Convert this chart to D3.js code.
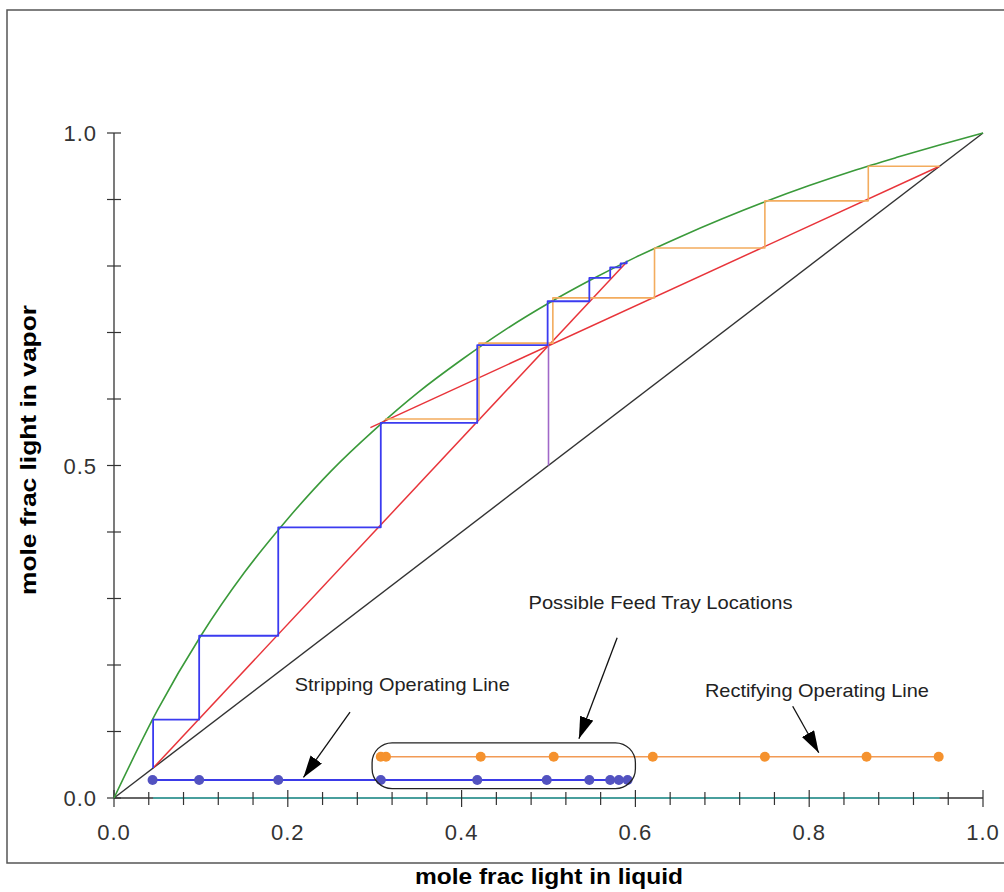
<!DOCTYPE html>
<html>
<head>
<meta charset="utf-8">
<script src="https://cdn.jsdelivr.net/npm/d3@7"></script>
<style>
  html, body { margin: 0; padding: 0; background: #fff; }
  svg { display: block; font-family: "Liberation Sans", Arial, sans-serif; }
</style>
</head>
<body>
<div id="chart"></div>
<script>
// equilibrium curve
const eqX = [0, 0.05, 0.1, 0.15, 0.2, 0.25, 0.3, 0.35, 0.4, 0.45, 0.5, 0.55, 0.6, 0.65, 0.7, 0.75, 0.8, 0.85, 0.9, 0.95, 1.0];
const eqY = [0, 0.132, 0.244, 0.339, 0.420, 0.492, 0.554, 0.610, 0.659, 0.704, 0.744, 0.780, 0.813, 0.843, 0.871, 0.897, 0.921, 0.943, 0.963, 0.982, 1.0];

const diagX = [0, 1];
const diagY = [0, 1];

// operating lines and feed line
const stripX = [0.045, 0.59];
const stripY = [0.045, 0.806];
const rectX = [0.95, 0.295];
const rectY = [0.95, 0.557];
const feedX = [0.5, 0.5];
const feedY = [0.5, 0.681];

// stripping staircase (blue)
const blueStepX = [0.045, 0.045, 0.098, 0.098, 0.189, 0.189, 0.307, 0.307, 0.418, 0.418, 0.499, 0.499, 0.547, 0.547, 0.571, 0.571, 0.583, 0.583, 0.590, 0.590];
const blueStepY = [0.045, 0.118, 0.118, 0.244, 0.244, 0.407, 0.407, 0.564, 0.564, 0.681, 0.681, 0.747, 0.747, 0.782, 0.782, 0.798, 0.798, 0.804, 0.804, 0.808];

// rectifying staircase (orange)
const orangeStepX = [0.95, 0.868, 0.868, 0.749, 0.749, 0.622, 0.622, 0.505, 0.505, 0.420, 0.420, 0.312];
const orangeStepY = [0.95, 0.95, 0.898, 0.898, 0.827, 0.827, 0.752, 0.752, 0.684, 0.684, 0.570, 0.570];

// feed tray candidates along the bottom
const blueTrayX = [0.0444, 0.098, 0.189, 0.307, 0.418, 0.498, 0.547, 0.571, 0.581, 0.591];
const orangeTrayX = [0.307, 0.313, 0.422, 0.506, 0.620, 0.749, 0.866, 0.949];
const blueTrayY = 0.027;
const orangeTrayY = 0.062;
const baseX = [0.045, 0.95];

const xTickLabels = [0.0, 0.2, 0.4, 0.6, 0.8, 1.0];
const yTickLabels = [0.0, 0.5, 1.0];

const width = 1004, height = 892;
const x = d3.scaleLinear().domain([0, 1]).range([114, 983]);
const y = d3.scaleLinear().domain([0, 1]).range([798, 133]);

const svg = d3.select('#chart').append('svg')
  .attr('width', width)
  .attr('height', height);

svg.append('defs').append('marker')
  .attr('id', 'arrow')
  .attr('markerUnits', 'userSpaceOnUse')
  .attr('markerWidth', 24)
  .attr('markerHeight', 16)
  .attr('refX', 22)
  .attr('refY', 7)
  .attr('orient', 'auto')
  .append('path')
  .attr('d', 'M0,0 L22,7 L0,14 Z')
  .attr('fill', '#000');

// outer frame
svg.append('rect')
  .attr('x', 7).attr('y', 10)
  .attr('width', 1010).attr('height', 853)
  .attr('fill', 'none')
  .attr('stroke', '#555')
  .attr('stroke-width', 1.5);

const zip = (xs, ys) => xs.map((v, i) => [v, ys[i]]);
const line = d3.line().x(d => x(d[0])).y(d => y(d[1]));
const smooth = d3.line().x(d => x(d[0])).y(d => y(d[1])).curve(d3.curveMonotoneX);

function drawPath(xs, ys, color, w, gen) {
  return svg.append('path')
    .attr('d', (gen || line)(zip(xs, ys)))
    .attr('fill', 'none')
    .attr('stroke', color)
    .attr('stroke-width', w)
    .attr('stroke-linejoin', 'round');
}

// axes lines
svg.append('line')
  .attr('x1', x(0)).attr('x2', x(0))
  .attr('y1', y(0)).attr('y2', y(1))
  .attr('stroke', '#333').attr('stroke-width', 1.3);
svg.append('line')
  .attr('x1', x(0)).attr('x2', x(1))
  .attr('y1', y(0)).attr('y2', y(0))
  .attr('stroke', '#333').attr('stroke-width', 1.3);

// cyan base line on the x axis
drawPath(baseX, [0, 0], '#3fb3b0', 1.6);

// y ticks every 0.1
svg.append('g').selectAll('line')
  .data(d3.range(0, 11).map(i => i / 10))
  .join('line')
  .attr('x1', x(0) - 7).attr('x2', x(0) + 7)
  .attr('y1', d => y(d)).attr('y2', d => y(d))
  .attr('stroke', '#333').attr('stroke-width', 1.2);

// x ticks every 0.04
svg.append('g').selectAll('line')
  .data(d3.range(0, 26).map(i => i * 0.04))
  .join('line')
  .attr('x1', d => x(d)).attr('x2', d => x(d))
  .attr('y1', (d, i) => y(0) - (i % 5 === 0 ? 8 : 6))
  .attr('y2', (d, i) => y(0) + (i % 5 === 0 ? 9 : 7))
  .attr('stroke', '#333').attr('stroke-width', 1.2);

svg.append('g').selectAll('text')
  .data(xTickLabels)
  .join('text')
  .attr('x', d => x(d))
  .attr('y', 840)
  .attr('text-anchor', 'middle')
  .attr('font-size', 22)
  .attr('letter-spacing', 1)
  .attr('fill', '#333')
  .text(d => d.toFixed(1));

svg.append('g').selectAll('text')
  .data(yTickLabels)
  .join('text')
  .attr('x', 97)
  .attr('y', d => y(d) + 8)
  .attr('text-anchor', 'end')
  .attr('font-size', 22)
  .attr('letter-spacing', 1)
  .attr('fill', '#333')
  .text(d => d.toFixed(1));

// axis titles
svg.append('text')
  .attr('x', 415).attr('y', 884)
  .attr('font-size', 22)
  .attr('font-weight', 'bold')
  .attr('textLength', 268)
  .attr('lengthAdjust', 'spacingAndGlyphs')
  .text('mole frac light in liquid');

svg.append('text')
  .attr('transform', 'translate(36,595) rotate(-90)')
  .attr('font-size', 22)
  .attr('font-weight', 'bold')
  .attr('textLength', 290)
  .attr('lengthAdjust', 'spacingAndGlyphs')
  .text('mole frac light in vapor');

// curves
drawPath(diagX, diagY, '#333', 1.4);
drawPath(eqX, eqY, '#3a9a3a', 1.6, smooth);
drawPath(stripX, stripY, '#e8343a', 1.5);
drawPath(rectX, rectY, '#e8343a', 1.5);
drawPath(feedX, feedY, '#a068c8', 1.6);
drawPath(orangeStepX, orangeStepY, '#f3ac5e', 1.6);
drawPath(blueStepX, blueStepY, '#3b3bf0', 1.8);

// feed tray rows
drawPath([orangeTrayX[0], orangeTrayX[orangeTrayX.length - 1]], [orangeTrayY, orangeTrayY], '#f29a55', 1.4);
drawPath([blueTrayX[0], blueTrayX[blueTrayX.length - 1]], [blueTrayY, blueTrayY], '#3a3ae8', 2);

svg.append('g').selectAll('circle')
  .data(orangeTrayX)
  .join('circle')
  .attr('cx', d => x(d))
  .attr('cy', y(orangeTrayY))
  .attr('r', 5)
  .attr('fill', '#f5922e');

svg.append('g').selectAll('circle')
  .data(blueTrayX)
  .join('circle')
  .attr('cx', d => x(d))
  .attr('cy', y(blueTrayY))
  .attr('r', 5)
  .attr('fill', '#5252c0');

// box around possible feed tray locations
svg.append('rect')
  .attr('x', x(0.297)).attr('y', y(0.083))
  .attr('width', x(0.600) - x(0.297))
  .attr('height', y(0.014) - y(0.083))
  .attr('rx', 20).attr('ry', 20)
  .attr('fill', 'none')
  .attr('stroke', '#222')
  .attr('stroke-width', 1.3);

// annotations
function note(txt, tx, ty, len, ax1, ay1, ax2, ay2) {
  svg.append('text')
    .attr('x', x(tx)).attr('y', y(ty))
    .attr('font-size', 19)
    .attr('fill', '#222')
    .attr('textLength', len)
    .attr('lengthAdjust', 'spacingAndGlyphs')
    .text(txt);
  svg.append('line')
    .attr('x1', x(ax1)).attr('y1', y(ay1))
    .attr('x2', x(ax2)).attr('y2', y(ay2))
    .attr('stroke', '#111')
    .attr('stroke-width', 1.3)
    .attr('marker-end', 'url(#arrow)');
}

note('Stripping Operating Line', 0.208, 0.161, 215, 0.2716, 0.129, 0.218, 0.031);
note('Possible Feed Tray Locations', 0.477, 0.284, 264, 0.579, 0.241, 0.535, 0.089);
note('Rectifying Operating Line', 0.680, 0.152, 224, 0.781, 0.138, 0.811, 0.068);
</script>
</body>
</html>
